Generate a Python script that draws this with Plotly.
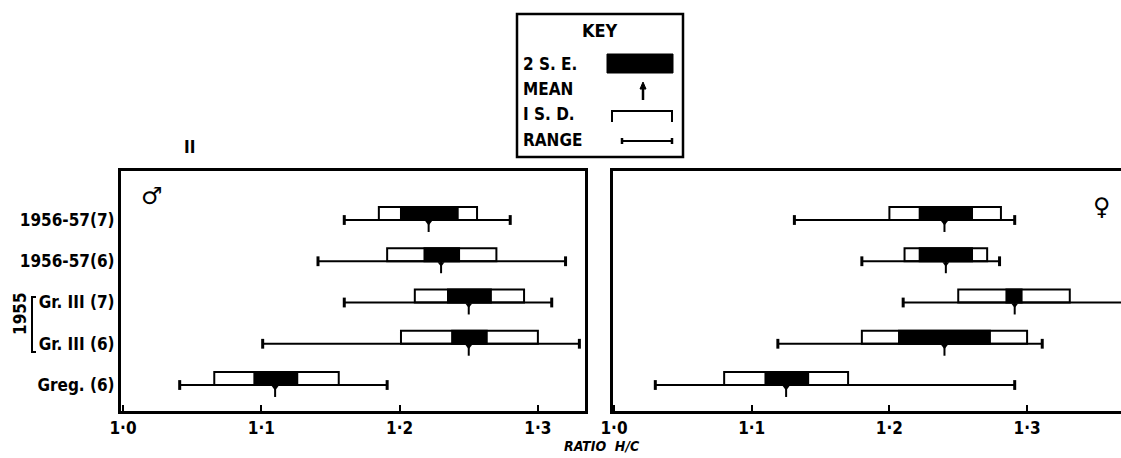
import plotly.graph_objects as go

W, H = 1121, 458

categories = ["1956-57(7)", "1956-57(6)", "Gr. III (7)", "Gr. III (6)", "Greg. (6)"]
row_pos = [4, 3, 2, 1, 0]

# Male (left panel)
m_range_lo = [1.160, 1.141, 1.160, 1.101, 1.041]
m_range_hi = [1.280, 1.320, 1.310, 1.330, 1.191]
m_sd_lo = [1.185, 1.191, 1.211, 1.201, 1.066]
m_sd_hi = [1.256, 1.270, 1.290, 1.300, 1.156]
m_se_lo = [1.201, 1.218, 1.235, 1.238, 1.095]
m_se_hi = [1.242, 1.243, 1.266, 1.263, 1.126]
m_mean = [1.221, 1.230, 1.250, 1.250, 1.110]

# Female (right panel)
f_range_lo = [1.131, 1.180, 1.210, 1.119, 1.030]
f_range_hi = [1.291, 1.280, 1.390, 1.311, 1.291]
f_sd_lo = [1.200, 1.211, 1.250, 1.180, 1.080]
f_sd_hi = [1.281, 1.271, 1.331, 1.300, 1.170]
f_se_lo = [1.222, 1.222, 1.285, 1.207, 1.110]
f_se_hi = [1.260, 1.260, 1.296, 1.273, 1.141]
f_mean = [1.240, 1.241, 1.291, 1.240, 1.125]

x_tickvals = [1.0, 1.1, 1.2, 1.3]
x_ticktext = ["1·0", "1·1", "1·2", "1·3"]

FONT = "Liberation Sans Narrow, DejaVu Sans Condensed, Roboto Condensed, Arial Narrow, sans-serif"
BOX_H = 0.315


def px(x):
    return x / W


def py(y):
    return 1 - y / H


def tf(size, **kw):
    d = dict(family=FONT, size=size, color="black", weight="bold")
    d.update(kw)
    return d


fig = go.Figure()


def add_panel(xa, ya, rlo, rhi, sdlo, sdhi, selo, sehi, mean):
    # SD boxes (white with black outline)
    fig.add_trace(go.Bar(
        orientation="h", y=[p + BOX_H / 2 for p in row_pos],
        x=[h - l for l, h in zip(sdlo, sdhi)], base=sdlo, width=BOX_H,
        marker=dict(color="white", line=dict(color="black", width=2)),
        xaxis=xa, yaxis=ya, showlegend=False, hoverinfo="skip"))
    # 2 S.E. (black)
    fig.add_trace(go.Bar(
        orientation="h", y=[p + BOX_H / 2 for p in row_pos],
        x=[h - l for l, h in zip(selo, sehi)], base=selo, width=BOX_H,
        marker=dict(color="black", line=dict(color="black", width=2)),
        xaxis=xa, yaxis=ya, showlegend=False, hoverinfo="skip"))
    # Range lines
    xs, ys = [], []
    for l, h, p in zip(rlo, rhi, row_pos):
        xs += [l, h, None]
        ys += [p, p, None]
    fig.add_trace(go.Scatter(x=xs, y=ys, mode="lines", line=dict(color="black", width=2),
                             xaxis=xa, yaxis=ya, showlegend=False, hoverinfo="skip"))
    # Range end caps
    fig.add_trace(go.Scatter(x=rlo + rhi, y=row_pos + row_pos, mode="markers",
                             marker=dict(symbol="line-ns-open", size=7, color="black",
                                         line=dict(color="black", width=3)),
                             xaxis=xa, yaxis=ya, showlegend=False, hoverinfo="skip"))
    # Mean spikes
    xs, ys = [], []
    for m, p in zip(mean, row_pos):
        xs += [m, m, None]
        ys += [p, p - 0.29, None]
    fig.add_trace(go.Scatter(x=xs, y=ys, mode="lines", line=dict(color="black", width=2),
                             xaxis=xa, yaxis=ya, showlegend=False, hoverinfo="skip"))
    fig.add_trace(go.Scatter(x=mean, y=[p - 0.06 for p in row_pos], mode="markers",
                             marker=dict(symbol="triangle-down", size=6, color="black"),
                             xaxis=xa, yaxis=ya, showlegend=False, hoverinfo="skip"))


add_panel("x", "y", m_range_lo, m_range_hi, m_sd_lo, m_sd_hi, m_se_lo, m_se_hi, m_mean)
add_panel("x2", "y2", f_range_lo, f_range_hi, f_sd_lo, f_sd_hi, f_se_lo, f_se_hi, f_mean)

y_dom = [py(411), py(171)]
y_range = [-0.63, 5.188]

xaxis_common = dict(tickvals=x_tickvals, ticktext=x_ticktext, showgrid=False, zeroline=False,
                    showline=True, linecolor="black", linewidth=3, ticks="inside", ticklen=6,
                    tickwidth=2, tickcolor="black", automargin=False,
                    tickfont=tf(17))

fig.update_layout(
    width=W, height=H, margin=dict(l=0, r=0, t=0, b=0, autoexpand=False),
    paper_bgcolor="white", plot_bgcolor="white", barmode="overlay",
    xaxis=dict(domain=[px(121), px(585)], range=[0.99856, 1.33406], mirror=True, anchor="y",
               **xaxis_common),
    xaxis2=dict(domain=[px(613), 1.0], range=[0.99927, 1.3682], mirror=True, anchor="y2",
                **xaxis_common),
    yaxis=dict(domain=y_dom, range=y_range, tickvals=row_pos, ticktext=categories,
               showgrid=False, zeroline=False, showline=True, linecolor="black", linewidth=3,
               mirror=True, ticks="", anchor="x", automargin=False,
               tickfont=tf(17)),
    yaxis2=dict(domain=y_dom, range=y_range, showticklabels=False, showgrid=False,
                zeroline=False, showline=True, linecolor="black", linewidth=3, mirror=False,
                ticks="", anchor="x2", automargin=False),
    showlegend=False,
)

annotations = [
    dict(text="<b><i>RATIO  H/C</i></b>", x=px(602), y=py(446), font=tf(14)),
    dict(text="<b>II</b>", x=px(189), y=py(147), font=tf(17)),
    dict(text="♂", x=px(152), y=py(196), font=dict(size=24, family="DejaVu Sans", color="black")),
    dict(text="♀", x=px(1102), y=py(207), font=dict(size=24, family="DejaVu Sans", color="black")),
    dict(text="<b>1955</b>", x=px(20), y=py(314), textangle=-90, font=tf(17)),
    dict(text="<b>KEY</b>", x=px(600), y=py(30), font=tf(18)),
    dict(text="<b>2 S. E.</b>", x=px(521), y=py(64), xanchor="left", font=tf(17)),
    dict(text="<b>MEAN</b>", x=px(521), y=py(89), xanchor="left", font=tf(17)),
    dict(text="<b>I S. D.</b>", x=px(521), y=py(114), xanchor="left", font=tf(17)),
    dict(text="<b>RANGE</b>", x=px(521), y=py(140), xanchor="left", font=tf(17)),
]
for a in annotations:
    a.update(xref="paper", yref="paper", showarrow=False, yanchor="middle")
    a.setdefault("xanchor", "center")
fig.update_layout(annotations=annotations)

shapes = [
    # 1955 bracket
    dict(type="path", path=f"M {px(36)} {py(297)} L {px(32)} {py(297)} L {px(32)} {py(352)} L {px(36)} {py(352)}",
         line=dict(color="black", width=2)),
    # key box
    dict(type="rect", x0=px(517), x1=px(683), y0=py(157), y1=py(14), line=dict(color="black", width=2.5)),
    # 2 S.E. glyph
    dict(type="rect", x0=px(607), x1=px(673), y0=py(73), y1=py(54), fillcolor="black", line=dict(color="black", width=1)),
    # mean glyph
    dict(type="line", x0=px(643), x1=px(643), y0=py(100), y1=py(87), line=dict(color="black", width=2.5)),
    dict(type="path", path=f"M {px(640)} {py(89)} L {px(643)} {py(82)} L {px(646)} {py(89)} Z",
         fillcolor="black", line=dict(color="black", width=1)),
    # 1 S.D. glyph
    dict(type="path", path=f"M {px(612)} {py(122)} L {px(612)} {py(111)} L {px(672)} {py(111)} L {px(672)} {py(122)}",
         line=dict(color="black", width=2)),
    # range glyph
    dict(type="line", x0=px(622), x1=px(672), y0=py(141), y1=py(141), line=dict(color="black", width=2)),
    dict(type="line", x0=px(622), x1=px(622), y0=py(138), y1=py(144), line=dict(color="black", width=2.5)),
    dict(type="line", x0=px(672), x1=px(672), y0=py(138), y1=py(144), line=dict(color="black", width=2.5)),
]
for s in shapes:
    s.update(xref="paper", yref="paper")
fig.update_layout(shapes=shapes)

fig.write_html("out.html")
